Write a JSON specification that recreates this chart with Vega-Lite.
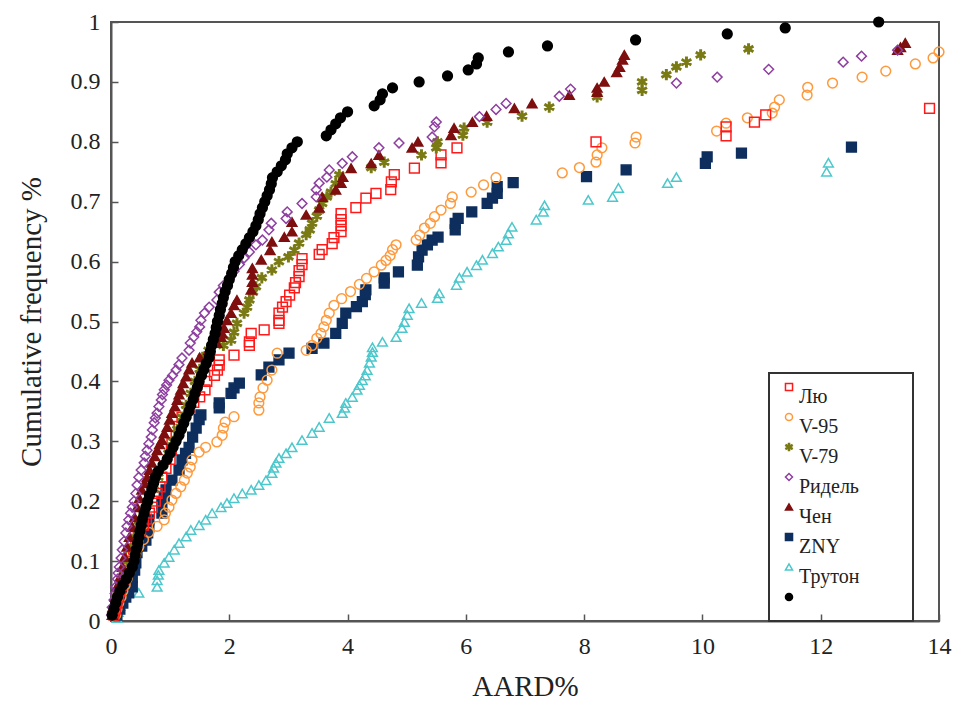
{
"$schema": "https://vega.github.io/schema/vega-lite/v6.json",
"width": 828, "height": 599,
"autosize": {"type": "none"},
"padding": {"left": 111, "top": 22, "right": 22, "bottom": 85},
"background": "white",
"config": {"view": {"stroke": "#555", "strokeWidth": 2}, "font": "Liberation Serif", "legend": {"strokeWidth": 2}},
"data": {"values": [
{"s":"Трутон","x":0.1,"y":0.005},{"s":"Трутон","x":0.12,"y":0.015},{"s":"Трутон","x":0.15,"y":0.025},{"s":"Трутон","x":0.18,"y":0.035},{"s":"Трутон","x":0.47,"y":0.047},{"s":"Трутон","x":0.78,"y":0.057},{"s":"Трутон","x":0.78,"y":0.068},{"s":"Трутон","x":0.8,"y":0.077},{"s":"Трутон","x":0.81,"y":0.085},{"s":"Трутон","x":0.9,"y":0.097},{"s":"Трутон","x":0.98,"y":0.107},{"s":"Трутон","x":1.07,"y":0.119},{"s":"Трутон","x":1.15,"y":0.13},{"s":"Трутон","x":1.27,"y":0.141},{"s":"Трутон","x":1.35,"y":0.152},{"s":"Трутон","x":1.49,"y":0.16},{"s":"Трутон","x":1.6,"y":0.169},{"s":"Трутон","x":1.71,"y":0.18},{"s":"Трутон","x":1.86,"y":0.19},{"s":"Трутон","x":1.96,"y":0.197},{"s":"Трутон","x":2.08,"y":0.205},{"s":"Трутон","x":2.22,"y":0.213},{"s":"Трутон","x":2.37,"y":0.219},{"s":"Трутон","x":2.5,"y":0.227},{"s":"Трутон","x":2.62,"y":0.235},{"s":"Трутон","x":2.72,"y":0.247},{"s":"Трутон","x":2.75,"y":0.256},{"s":"Трутон","x":2.79,"y":0.264},{"s":"Трутон","x":2.84,"y":0.272},{"s":"Трутон","x":2.96,"y":0.28},{"s":"Трутон","x":3.06,"y":0.29},{"s":"Трутон","x":3.23,"y":0.302},{"s":"Трутон","x":3.4,"y":0.314},{"s":"Трутон","x":3.52,"y":0.324},{"s":"Трутон","x":3.69,"y":0.339},{"s":"Трутон","x":3.91,"y":0.347},{"s":"Трутон","x":3.95,"y":0.356},{"s":"Трутон","x":3.97,"y":0.364},{"s":"Трутон","x":4.08,"y":0.374},{"s":"Трутон","x":4.16,"y":0.386},{"s":"Трутон","x":4.2,"y":0.394},{"s":"Трутон","x":4.25,"y":0.402},{"s":"Трутон","x":4.3,"y":0.41},{"s":"Трутон","x":4.33,"y":0.419},{"s":"Трутон","x":4.37,"y":0.431},{"s":"Трутон","x":4.4,"y":0.441},{"s":"Трутон","x":4.42,"y":0.449},{"s":"Трутон","x":4.42,"y":0.457},{"s":"Трутон","x":4.59,"y":0.466},{"s":"Трутон","x":4.82,"y":0.474},{"s":"Трутон","x":4.92,"y":0.489},{"s":"Трутон","x":4.96,"y":0.499},{"s":"Трутон","x":5.01,"y":0.511},{"s":"Трутон","x":5.04,"y":0.522},{"s":"Трутон","x":5.25,"y":0.531},{"s":"Трутон","x":5.52,"y":0.539},{"s":"Трутон","x":5.55,"y":0.547},{"s":"Трутон","x":5.84,"y":0.561},{"s":"Трутон","x":5.89,"y":0.573},{"s":"Трутон","x":6.02,"y":0.583},{"s":"Трутон","x":6.18,"y":0.594},{"s":"Трутон","x":6.28,"y":0.603},{"s":"Трутон","x":6.45,"y":0.614},{"s":"Трутон","x":6.55,"y":0.625},{"s":"Трутон","x":6.68,"y":0.636},{"s":"Трутон","x":6.72,"y":0.647},{"s":"Трутон","x":6.78,"y":0.658},{"s":"Трутон","x":7.19,"y":0.67},{"s":"Трутон","x":7.31,"y":0.683},{"s":"Трутон","x":7.33,"y":0.694},{"s":"Трутон","x":8.07,"y":0.703},{"s":"Трутон","x":8.48,"y":0.708},{"s":"Трутон","x":8.58,"y":0.723},{"s":"Трутон","x":9.41,"y":0.731},{"s":"Трутон","x":9.56,"y":0.741},{"s":"Трутон","x":12.1,"y":0.75},{"s":"Трутон","x":12.13,"y":0.765},
{"s":"ZNY","x":0.1,"y":0.01},{"s":"ZNY","x":0.15,"y":0.02},{"s":"ZNY","x":0.2,"y":0.03},{"s":"ZNY","x":0.25,"y":0.04},{"s":"ZNY","x":0.3,"y":0.047},{"s":"ZNY","x":0.36,"y":0.057},{"s":"ZNY","x":0.36,"y":0.073},{"s":"ZNY","x":0.4,"y":0.085},{"s":"ZNY","x":0.42,"y":0.097},{"s":"ZNY","x":0.44,"y":0.114},{"s":"ZNY","x":0.52,"y":0.125},{"s":"ZNY","x":0.59,"y":0.135},{"s":"ZNY","x":0.62,"y":0.147},{"s":"ZNY","x":0.64,"y":0.157},{"s":"ZNY","x":0.64,"y":0.169},{"s":"ZNY","x":0.86,"y":0.18},{"s":"ZNY","x":0.86,"y":0.197},{"s":"ZNY","x":0.9,"y":0.208},{"s":"ZNY","x":0.93,"y":0.219},{"s":"ZNY","x":1.03,"y":0.235},{"s":"ZNY","x":1.15,"y":0.252},{"s":"ZNY","x":1.2,"y":0.269},{"s":"ZNY","x":1.26,"y":0.28},{"s":"ZNY","x":1.32,"y":0.29},{"s":"ZNY","x":1.38,"y":0.307},{"s":"ZNY","x":1.44,"y":0.322},{"s":"ZNY","x":1.49,"y":0.336},{"s":"ZNY","x":1.52,"y":0.344},{"s":"ZNY","x":1.83,"y":0.356},{"s":"ZNY","x":1.83,"y":0.364},{"s":"ZNY","x":2.03,"y":0.38},{"s":"ZNY","x":2.08,"y":0.389},{"s":"ZNY","x":2.17,"y":0.397},{"s":"ZNY","x":2.54,"y":0.411},{"s":"ZNY","x":2.67,"y":0.424},{"s":"ZNY","x":2.84,"y":0.436},{"s":"ZNY","x":3.01,"y":0.447},{"s":"ZNY","x":3.4,"y":0.455},{"s":"ZNY","x":3.6,"y":0.464},{"s":"ZNY","x":3.8,"y":0.48},{"s":"ZNY","x":3.91,"y":0.497},{"s":"ZNY","x":3.97,"y":0.514},{"s":"ZNY","x":4.15,"y":0.525},{"s":"ZNY","x":4.25,"y":0.533},{"s":"ZNY","x":4.3,"y":0.545},{"s":"ZNY","x":4.31,"y":0.553},{"s":"ZNY","x":4.62,"y":0.564},{"s":"ZNY","x":4.62,"y":0.573},{"s":"ZNY","x":4.86,"y":0.583},{"s":"ZNY","x":5.18,"y":0.594},{"s":"ZNY","x":5.2,"y":0.608},{"s":"ZNY","x":5.26,"y":0.619},{"s":"ZNY","x":5.35,"y":0.628},{"s":"ZNY","x":5.43,"y":0.636},{"s":"ZNY","x":5.53,"y":0.641},{"s":"ZNY","x":5.82,"y":0.653},{"s":"ZNY","x":5.82,"y":0.664},{"s":"ZNY","x":5.87,"y":0.672},{"s":"ZNY","x":6.1,"y":0.683},{"s":"ZNY","x":6.36,"y":0.697},{"s":"ZNY","x":6.45,"y":0.706},{"s":"ZNY","x":6.53,"y":0.714},{"s":"ZNY","x":6.53,"y":0.725},{"s":"ZNY","x":6.8,"y":0.732},{"s":"ZNY","x":8.04,"y":0.742},{"s":"ZNY","x":8.71,"y":0.753},{"s":"ZNY","x":10.05,"y":0.764},{"s":"ZNY","x":10.08,"y":0.775},{"s":"ZNY","x":10.66,"y":0.781},{"s":"ZNY","x":12.52,"y":0.791},
{"s":"V-95","x":0.08,"y":0.01},{"s":"V-95","x":0.1,"y":0.02},{"s":"V-95","x":0.13,"y":0.03},{"s":"V-95","x":0.17,"y":0.04},{"s":"V-95","x":0.2,"y":0.05},{"s":"V-95","x":0.24,"y":0.06},{"s":"V-95","x":0.27,"y":0.07},{"s":"V-95","x":0.3,"y":0.08},{"s":"V-95","x":0.33,"y":0.09},{"s":"V-95","x":0.36,"y":0.1},{"s":"V-95","x":0.42,"y":0.112},{"s":"V-95","x":0.47,"y":0.124},{"s":"V-95","x":0.55,"y":0.136},{"s":"V-95","x":0.64,"y":0.148},{"s":"V-95","x":0.78,"y":0.158},{"s":"V-95","x":0.9,"y":0.169},{"s":"V-95","x":0.92,"y":0.18},{"s":"V-95","x":0.98,"y":0.19},{"s":"V-95","x":1.03,"y":0.202},{"s":"V-95","x":1.1,"y":0.213},{"s":"V-95","x":1.18,"y":0.224},{"s":"V-95","x":1.24,"y":0.235},{"s":"V-95","x":1.29,"y":0.247},{"s":"V-95","x":1.34,"y":0.257},{"s":"V-95","x":1.37,"y":0.269},{"s":"V-95","x":1.49,"y":0.282},{"s":"V-95","x":1.6,"y":0.29},{"s":"V-95","x":1.79,"y":0.299},{"s":"V-95","x":1.88,"y":0.31},{"s":"V-95","x":1.9,"y":0.322},{"s":"V-95","x":1.93,"y":0.332},{"s":"V-95","x":2.08,"y":0.341},{"s":"V-95","x":2.5,"y":0.352},{"s":"V-95","x":2.5,"y":0.364},{"s":"V-95","x":2.52,"y":0.374},{"s":"V-95","x":2.57,"y":0.389},{"s":"V-95","x":2.64,"y":0.402},{"s":"V-95","x":2.72,"y":0.419},{"s":"V-95","x":2.81,"y":0.447},{"s":"V-95","x":3.3,"y":0.452},{"s":"V-95","x":3.4,"y":0.46},{"s":"V-95","x":3.48,"y":0.472},{"s":"V-95","x":3.55,"y":0.48},{"s":"V-95","x":3.6,"y":0.491},{"s":"V-95","x":3.64,"y":0.502},{"s":"V-95","x":3.69,"y":0.514},{"s":"V-95","x":3.77,"y":0.527},{"s":"V-95","x":3.9,"y":0.538},{"s":"V-95","x":4.05,"y":0.55},{"s":"V-95","x":4.2,"y":0.562},{"s":"V-95","x":4.32,"y":0.572},{"s":"V-95","x":4.45,"y":0.583},{"s":"V-95","x":4.57,"y":0.594},{"s":"V-95","x":4.65,"y":0.602},{"s":"V-95","x":4.72,"y":0.61},{"s":"V-95","x":4.76,"y":0.62},{"s":"V-95","x":4.82,"y":0.628},{"s":"V-95","x":5.16,"y":0.636},{"s":"V-95","x":5.22,"y":0.644},{"s":"V-95","x":5.3,"y":0.656},{"s":"V-95","x":5.4,"y":0.664},{"s":"V-95","x":5.47,"y":0.675},{"s":"V-95","x":5.58,"y":0.686},{"s":"V-95","x":5.74,"y":0.697},{"s":"V-95","x":5.77,"y":0.708},{"s":"V-95","x":6.09,"y":0.716},{"s":"V-95","x":6.3,"y":0.728},{"s":"V-95","x":6.51,"y":0.74},{"s":"V-95","x":7.63,"y":0.748},{"s":"V-95","x":7.92,"y":0.757},{"s":"V-95","x":8.2,"y":0.766},{"s":"V-95","x":8.22,"y":0.778},{"s":"V-95","x":8.3,"y":0.79},{"s":"V-95","x":8.86,"y":0.798},{"s":"V-95","x":8.88,"y":0.808},{"s":"V-95","x":10.24,"y":0.818},{"s":"V-95","x":10.4,"y":0.831},{"s":"V-95","x":10.76,"y":0.84},{"s":"V-95","x":11.18,"y":0.848},{"s":"V-95","x":11.22,"y":0.858},{"s":"V-95","x":11.3,"y":0.87},{"s":"V-95","x":11.77,"y":0.878},{"s":"V-95","x":11.78,"y":0.891},{"s":"V-95","x":12.2,"y":0.898},{"s":"V-95","x":12.7,"y":0.908},{"s":"V-95","x":13.1,"y":0.918},{"s":"V-95","x":13.6,"y":0.93},{"s":"V-95","x":13.9,"y":0.94},{"s":"V-95","x":14.0,"y":0.95},
{"s":"Лю","x":0.05,"y":0.01},{"s":"Лю","x":0.08,"y":0.02},{"s":"Лю","x":0.1,"y":0.03},{"s":"Лю","x":0.13,"y":0.04},{"s":"Лю","x":0.15,"y":0.05},{"s":"Лю","x":0.18,"y":0.06},{"s":"Лю","x":0.21,"y":0.07},{"s":"Лю","x":0.24,"y":0.08},{"s":"Лю","x":0.27,"y":0.09},{"s":"Лю","x":0.3,"y":0.1},{"s":"Лю","x":0.34,"y":0.11},{"s":"Лю","x":0.38,"y":0.12},{"s":"Лю","x":0.42,"y":0.13},{"s":"Лю","x":0.46,"y":0.14},{"s":"Лю","x":0.5,"y":0.15},{"s":"Лю","x":0.55,"y":0.16},{"s":"Лю","x":0.6,"y":0.17},{"s":"Лю","x":0.65,"y":0.18},{"s":"Лю","x":0.7,"y":0.19},{"s":"Лю","x":0.75,"y":0.2},{"s":"Лю","x":0.78,"y":0.213},{"s":"Лю","x":0.83,"y":0.224},{"s":"Лю","x":0.86,"y":0.24},{"s":"Лю","x":0.93,"y":0.255},{"s":"Лю","x":1.0,"y":0.27},{"s":"Лю","x":1.02,"y":0.285},{"s":"Лю","x":1.03,"y":0.297},{"s":"Лю","x":1.1,"y":0.31},{"s":"Лю","x":1.15,"y":0.325},{"s":"Лю","x":1.2,"y":0.34},{"s":"Лю","x":1.32,"y":0.355},{"s":"Лю","x":1.4,"y":0.365},{"s":"Лю","x":1.5,"y":0.374},{"s":"Лю","x":1.59,"y":0.386},{"s":"Лю","x":1.62,"y":0.4},{"s":"Лю","x":1.75,"y":0.41},{"s":"Лю","x":1.8,"y":0.419},{"s":"Лю","x":1.83,"y":0.427},{"s":"Лю","x":1.83,"y":0.436},{"s":"Лю","x":2.08,"y":0.444},{"s":"Лю","x":2.34,"y":0.46},{"s":"Лю","x":2.34,"y":0.466},{"s":"Лю","x":2.37,"y":0.48},{"s":"Лю","x":2.59,"y":0.486},{"s":"Лю","x":2.84,"y":0.497},{"s":"Лю","x":2.84,"y":0.502},{"s":"Лю","x":2.84,"y":0.514},{"s":"Лю","x":2.9,"y":0.524},{"s":"Лю","x":2.96,"y":0.533},{"s":"Лю","x":3.02,"y":0.544},{"s":"Лю","x":3.1,"y":0.556},{"s":"Лю","x":3.12,"y":0.565},{"s":"Лю","x":3.18,"y":0.575},{"s":"Лю","x":3.18,"y":0.585},{"s":"Лю","x":3.23,"y":0.595},{"s":"Лю","x":3.23,"y":0.605},{"s":"Лю","x":3.52,"y":0.612},{"s":"Лю","x":3.57,"y":0.62},{"s":"Лю","x":3.74,"y":0.63},{"s":"Лю","x":3.77,"y":0.64},{"s":"Лю","x":3.89,"y":0.65},{"s":"Лю","x":3.89,"y":0.66},{"s":"Лю","x":3.89,"y":0.67},{"s":"Лю","x":3.89,"y":0.68},{"s":"Лю","x":4.14,"y":0.69},{"s":"Лю","x":4.31,"y":0.706},{"s":"Лю","x":4.48,"y":0.714},{"s":"Лю","x":4.73,"y":0.72},{"s":"Лю","x":4.74,"y":0.733},{"s":"Лю","x":4.79,"y":0.745},{"s":"Лю","x":5.13,"y":0.756},{"s":"Лю","x":5.58,"y":0.765},{"s":"Лю","x":5.58,"y":0.778},{"s":"Лю","x":5.85,"y":0.79},{"s":"Лю","x":8.2,"y":0.8},{"s":"Лю","x":10.4,"y":0.81},{"s":"Лю","x":10.4,"y":0.825},{"s":"Лю","x":10.88,"y":0.833},{"s":"Лю","x":11.07,"y":0.845},{"s":"Лю","x":13.84,"y":0.856},
{"s":"V-79","x":0.03,"y":0.01},{"s":"V-79","x":0.05,"y":0.02},{"s":"V-79","x":0.1,"y":0.04},{"s":"V-79","x":0.15,"y":0.06},{"s":"V-79","x":0.21,"y":0.08},{"s":"V-79","x":0.27,"y":0.1},{"s":"V-79","x":0.33,"y":0.12},{"s":"V-79","x":0.4,"y":0.14},{"s":"V-79","x":0.47,"y":0.16},{"s":"V-79","x":0.55,"y":0.18},{"s":"V-79","x":0.63,"y":0.2},{"s":"V-79","x":0.72,"y":0.22},{"s":"V-79","x":0.8,"y":0.24},{"s":"V-79","x":0.88,"y":0.26},{"s":"V-79","x":0.97,"y":0.28},{"s":"V-79","x":1.05,"y":0.3},{"s":"V-79","x":1.12,"y":0.32},{"s":"V-79","x":1.2,"y":0.34},{"s":"V-79","x":1.27,"y":0.36},{"s":"V-79","x":1.35,"y":0.38},{"s":"V-79","x":1.42,"y":0.4},{"s":"V-79","x":1.5,"y":0.42},{"s":"V-79","x":1.55,"y":0.44},{"s":"V-79","x":1.65,"y":0.452},{"s":"V-79","x":1.9,"y":0.46},{"s":"V-79","x":2.03,"y":0.469},{"s":"V-79","x":2.08,"y":0.482},{"s":"V-79","x":2.13,"y":0.497},{"s":"V-79","x":2.25,"y":0.514},{"s":"V-79","x":2.3,"y":0.524},{"s":"V-79","x":2.34,"y":0.536},{"s":"V-79","x":2.4,"y":0.549},{"s":"V-79","x":2.45,"y":0.558},{"s":"V-79","x":2.55,"y":0.573},{"s":"V-79","x":2.72,"y":0.586},{"s":"V-79","x":2.84,"y":0.6},{"s":"V-79","x":3.0,"y":0.608},{"s":"V-79","x":3.1,"y":0.619},{"s":"V-79","x":3.18,"y":0.631},{"s":"V-79","x":3.3,"y":0.645},{"s":"V-79","x":3.36,"y":0.653},{"s":"V-79","x":3.4,"y":0.664},{"s":"V-79","x":3.48,"y":0.676},{"s":"V-79","x":3.52,"y":0.686},{"s":"V-79","x":3.57,"y":0.697},{"s":"V-79","x":3.65,"y":0.708},{"s":"V-79","x":3.72,"y":0.716},{"s":"V-79","x":3.8,"y":0.73},{"s":"V-79","x":3.86,"y":0.745},{"s":"V-79","x":4.4,"y":0.757},{"s":"V-79","x":4.62,"y":0.766},{"s":"V-79","x":5.25,"y":0.778},{"s":"V-79","x":5.5,"y":0.79},{"s":"V-79","x":5.52,"y":0.8},{"s":"V-79","x":5.95,"y":0.811},{"s":"V-79","x":5.97,"y":0.823},{"s":"V-79","x":6.36,"y":0.833},{"s":"V-79","x":6.95,"y":0.843},{"s":"V-79","x":7.41,"y":0.858},{"s":"V-79","x":8.22,"y":0.875},{"s":"V-79","x":8.98,"y":0.886},{"s":"V-79","x":8.98,"y":0.9},{"s":"V-79","x":9.39,"y":0.912},{"s":"V-79","x":9.56,"y":0.925},{"s":"V-79","x":9.73,"y":0.933},{"s":"V-79","x":9.97,"y":0.945},{"s":"V-79","x":10.78,"y":0.955},
{"s":"Чен","x":0.02,"y":0.01},{"s":"Чен","x":0.03,"y":0.023},{"s":"Чен","x":0.07,"y":0.04},{"s":"Чен","x":0.1,"y":0.057},{"s":"Чен","x":0.15,"y":0.073},{"s":"Чен","x":0.19,"y":0.09},{"s":"Чен","x":0.23,"y":0.107},{"s":"Чен","x":0.27,"y":0.124},{"s":"Чен","x":0.31,"y":0.14},{"s":"Чен","x":0.36,"y":0.157},{"s":"Чен","x":0.4,"y":0.173},{"s":"Чен","x":0.44,"y":0.19},{"s":"Чен","x":0.48,"y":0.205},{"s":"Чен","x":0.52,"y":0.219},{"s":"Чен","x":0.57,"y":0.23},{"s":"Чен","x":0.61,"y":0.24},{"s":"Чен","x":0.65,"y":0.252},{"s":"Чен","x":0.69,"y":0.264},{"s":"Чен","x":0.74,"y":0.275},{"s":"Чен","x":0.78,"y":0.285},{"s":"Чен","x":0.82,"y":0.295},{"s":"Чен","x":0.86,"y":0.302},{"s":"Чен","x":0.9,"y":0.313},{"s":"Чен","x":0.95,"y":0.324},{"s":"Чен","x":0.99,"y":0.336},{"s":"Чен","x":1.03,"y":0.347},{"s":"Чен","x":1.08,"y":0.358},{"s":"Чен","x":1.12,"y":0.369},{"s":"Чен","x":1.15,"y":0.378},{"s":"Чен","x":1.18,"y":0.386},{"s":"Чен","x":1.22,"y":0.397},{"s":"Чен","x":1.27,"y":0.408},{"s":"Чен","x":1.32,"y":0.42},{"s":"Чен","x":1.37,"y":0.431},{"s":"Чен","x":1.5,"y":0.44},{"s":"Чен","x":1.65,"y":0.452},{"s":"Чен","x":1.79,"y":0.464},{"s":"Чен","x":1.86,"y":0.474},{"s":"Чен","x":1.88,"y":0.48},{"s":"Чен","x":1.91,"y":0.489},{"s":"Чен","x":1.96,"y":0.502},{"s":"Чен","x":2.03,"y":0.514},{"s":"Чен","x":2.08,"y":0.527},{"s":"Чен","x":2.13,"y":0.536},{"s":"Чен","x":2.37,"y":0.553},{"s":"Чен","x":2.39,"y":0.566},{"s":"Чен","x":2.39,"y":0.578},{"s":"Чен","x":2.39,"y":0.589},{"s":"Чен","x":2.54,"y":0.603},{"s":"Чен","x":2.69,"y":0.619},{"s":"Чен","x":2.72,"y":0.633},{"s":"Чен","x":2.93,"y":0.641},{"s":"Чен","x":3.06,"y":0.65},{"s":"Чен","x":3.06,"y":0.666},{"s":"Чен","x":3.3,"y":0.678},{"s":"Чен","x":3.52,"y":0.69},{"s":"Чен","x":3.57,"y":0.708},{"s":"Чен","x":3.8,"y":0.72},{"s":"Чен","x":3.89,"y":0.731},{"s":"Чен","x":3.92,"y":0.741},{"s":"Чен","x":4.06,"y":0.756},{"s":"Чен","x":4.4,"y":0.764},{"s":"Чен","x":4.53,"y":0.778},{"s":"Чен","x":5.09,"y":0.79},{"s":"Чен","x":5.19,"y":0.8},{"s":"Чен","x":5.75,"y":0.811},{"s":"Чен","x":5.8,"y":0.823},{"s":"Чен","x":6.11,"y":0.833},{"s":"Чен","x":6.35,"y":0.843},{"s":"Чен","x":6.82,"y":0.856},{"s":"Чен","x":7.12,"y":0.864},{"s":"Чен","x":7.75,"y":0.878},{"s":"Чен","x":8.22,"y":0.883},{"s":"Чен","x":8.22,"y":0.89},{"s":"Чен","x":8.34,"y":0.9},{"s":"Чен","x":8.55,"y":0.916},{"s":"Чен","x":8.6,"y":0.925},{"s":"Чен","x":8.65,"y":0.937},{"s":"Чен","x":8.68,"y":0.945},{"s":"Чен","x":13.3,"y":0.953},{"s":"Чен","x":13.35,"y":0.958},{"s":"Чен","x":13.43,"y":0.965},
{"s":"Ридель","x":0.01,"y":0.01},{"s":"Ридель","x":0.02,"y":0.023},{"s":"Ридель","x":0.05,"y":0.035},{"s":"Ридель","x":0.07,"y":0.046},{"s":"Ридель","x":0.08,"y":0.057},{"s":"Ридель","x":0.11,"y":0.07},{"s":"Ридель","x":0.12,"y":0.08},{"s":"Ридель","x":0.14,"y":0.09},{"s":"Ридель","x":0.17,"y":0.105},{"s":"Ридель","x":0.19,"y":0.119},{"s":"Ридель","x":0.22,"y":0.133},{"s":"Ридель","x":0.25,"y":0.147},{"s":"Ридель","x":0.27,"y":0.158},{"s":"Ридель","x":0.3,"y":0.169},{"s":"Ридель","x":0.33,"y":0.18},{"s":"Ридель","x":0.36,"y":0.19},{"s":"Ридель","x":0.39,"y":0.2},{"s":"Ридель","x":0.42,"y":0.213},{"s":"Ридель","x":0.44,"y":0.227},{"s":"Ридель","x":0.47,"y":0.24},{"s":"Ридель","x":0.51,"y":0.252},{"s":"Ридель","x":0.56,"y":0.264},{"s":"Ридель","x":0.58,"y":0.275},{"s":"Ридель","x":0.61,"y":0.285},{"s":"Ридель","x":0.64,"y":0.296},{"s":"Ридель","x":0.68,"y":0.307},{"s":"Ридель","x":0.7,"y":0.319},{"s":"Ридель","x":0.73,"y":0.331},{"s":"Ридель","x":0.75,"y":0.339},{"s":"Ридель","x":0.78,"y":0.347},{"s":"Ридель","x":0.81,"y":0.358},{"s":"Ридель","x":0.85,"y":0.369},{"s":"Ридель","x":0.87,"y":0.378},{"s":"Ридель","x":0.9,"y":0.386},{"s":"Ридель","x":0.94,"y":0.394},{"s":"Ридель","x":0.98,"y":0.402},{"s":"Ридель","x":1.04,"y":0.41},{"s":"Ридель","x":1.1,"y":0.419},{"s":"Ридель","x":1.15,"y":0.428},{"s":"Ридель","x":1.2,"y":0.439},{"s":"Ридель","x":1.32,"y":0.452},{"s":"Ридель","x":1.34,"y":0.464},{"s":"Ридель","x":1.4,"y":0.474},{"s":"Ридель","x":1.45,"y":0.483},{"s":"Ридель","x":1.5,"y":0.491},{"s":"Ридель","x":1.52,"y":0.502},{"s":"Ридель","x":1.58,"y":0.514},{"s":"Ридель","x":1.66,"y":0.524},{"s":"Ридель","x":1.79,"y":0.536},{"s":"Ридель","x":1.83,"y":0.549},{"s":"Ридель","x":1.9,"y":0.56},{"s":"Ридель","x":2.0,"y":0.572},{"s":"Ридель","x":2.08,"y":0.584},{"s":"Ридель","x":2.17,"y":0.595},{"s":"Ридель","x":2.25,"y":0.606},{"s":"Ридель","x":2.34,"y":0.616},{"s":"Ридель","x":2.45,"y":0.628},{"s":"Ридель","x":2.56,"y":0.636},{"s":"Ридель","x":2.67,"y":0.653},{"s":"Ридель","x":2.71,"y":0.664},{"s":"Ридель","x":2.96,"y":0.672},{"s":"Ридель","x":2.98,"y":0.683},{"s":"Ридель","x":3.23,"y":0.697},{"s":"Ридель","x":3.47,"y":0.708},{"s":"Ридель","x":3.47,"y":0.72},{"s":"Ридель","x":3.52,"y":0.731},{"s":"Ридель","x":3.65,"y":0.741},{"s":"Ридель","x":3.69,"y":0.753},{"s":"Ридель","x":3.91,"y":0.764},{"s":"Ридель","x":4.08,"y":0.775},{"s":"Ридель","x":4.53,"y":0.79},{"s":"Ридель","x":4.87,"y":0.798},{"s":"Ридель","x":5.43,"y":0.808},{"s":"Ридель","x":5.47,"y":0.825},{"s":"Ридель","x":5.5,"y":0.833},{"s":"Ридель","x":6.23,"y":0.842},{"s":"Ридель","x":6.51,"y":0.854},{"s":"Ридель","x":6.68,"y":0.864},{"s":"Ридель","x":7.58,"y":0.876},{"s":"Ридель","x":7.77,"y":0.888},{"s":"Ридель","x":9.56,"y":0.898},{"s":"Ридель","x":10.25,"y":0.908},{"s":"Ридель","x":11.12,"y":0.921},{"s":"Ридель","x":12.38,"y":0.933},{"s":"Ридель","x":12.69,"y":0.943},{"s":"Ридель","x":13.3,"y":0.953},
{"s":" ","x":0.02,"y":0.01},{"s":" ","x":0.05,"y":0.02},{"s":" ","x":0.08,"y":0.03},{"s":" ","x":0.11,"y":0.04},{"s":" ","x":0.15,"y":0.05},{"s":" ","x":0.2,"y":0.06},{"s":" ","x":0.26,"y":0.07},{"s":" ","x":0.31,"y":0.08},{"s":" ","x":0.36,"y":0.09},{"s":" ","x":0.39,"y":0.1},{"s":" ","x":0.41,"y":0.11},{"s":" ","x":0.43,"y":0.12},{"s":" ","x":0.45,"y":0.13},{"s":" ","x":0.47,"y":0.14},{"s":" ","x":0.49,"y":0.15},{"s":" ","x":0.51,"y":0.16},{"s":" ","x":0.53,"y":0.17},{"s":" ","x":0.56,"y":0.18},{"s":" ","x":0.59,"y":0.19},{"s":" ","x":0.62,"y":0.2},{"s":" ","x":0.65,"y":0.21},{"s":" ","x":0.69,"y":0.22},{"s":" ","x":0.72,"y":0.23},{"s":" ","x":0.75,"y":0.24},{"s":" ","x":0.8,"y":0.25},{"s":" ","x":0.88,"y":0.26},{"s":" ","x":0.95,"y":0.27},{"s":" ","x":1.0,"y":0.28},{"s":" ","x":1.05,"y":0.29},{"s":" ","x":1.1,"y":0.3},{"s":" ","x":1.15,"y":0.31},{"s":" ","x":1.19,"y":0.32},{"s":" ","x":1.23,"y":0.33},{"s":" ","x":1.27,"y":0.34},{"s":" ","x":1.32,"y":0.35},{"s":" ","x":1.35,"y":0.36},{"s":" ","x":1.39,"y":0.37},{"s":" ","x":1.42,"y":0.38},{"s":" ","x":1.46,"y":0.39},{"s":" ","x":1.49,"y":0.4},{"s":" ","x":1.53,"y":0.41},{"s":" ","x":1.57,"y":0.42},{"s":" ","x":1.61,"y":0.43},{"s":" ","x":1.66,"y":0.44},{"s":" ","x":1.68,"y":0.45},{"s":" ","x":1.7,"y":0.46},{"s":" ","x":1.73,"y":0.47},{"s":" ","x":1.76,"y":0.48},{"s":" ","x":1.78,"y":0.49},{"s":" ","x":1.8,"y":0.5},{"s":" ","x":1.83,"y":0.51},{"s":" ","x":1.85,"y":0.52},{"s":" ","x":1.88,"y":0.53},{"s":" ","x":1.9,"y":0.54},{"s":" ","x":1.93,"y":0.55},{"s":" ","x":1.97,"y":0.56},{"s":" ","x":2.0,"y":0.57},{"s":" ","x":2.04,"y":0.58},{"s":" ","x":2.07,"y":0.59},{"s":" ","x":2.1,"y":0.6},{"s":" ","x":2.16,"y":0.61},{"s":" ","x":2.22,"y":0.62},{"s":" ","x":2.28,"y":0.63},{"s":" ","x":2.34,"y":0.64},{"s":" ","x":2.4,"y":0.65},{"s":" ","x":2.45,"y":0.66},{"s":" ","x":2.49,"y":0.67},{"s":" ","x":2.52,"y":0.68},{"s":" ","x":2.56,"y":0.69},{"s":" ","x":2.6,"y":0.7},{"s":" ","x":2.64,"y":0.71},{"s":" ","x":2.68,"y":0.72},{"s":" ","x":2.71,"y":0.73},{"s":" ","x":2.73,"y":0.74},{"s":" ","x":2.81,"y":0.75},{"s":" ","x":2.88,"y":0.76},{"s":" ","x":2.95,"y":0.77},{"s":" ","x":2.98,"y":0.78},{"s":" ","x":3.06,"y":0.79},{"s":" ","x":3.15,"y":0.8},{"s":" ","x":3.64,"y":0.81},{"s":" ","x":3.72,"y":0.82},{"s":" ","x":3.8,"y":0.83},{"s":" ","x":3.88,"y":0.84},{"s":" ","x":4.0,"y":0.85},{"s":" ","x":4.45,"y":0.86},{"s":" ","x":4.55,"y":0.87},{"s":" ","x":4.59,"y":0.88},{"s":" ","x":4.76,"y":0.89},{"s":" ","x":5.21,"y":0.9},{"s":" ","x":5.69,"y":0.91},{"s":" ","x":6.04,"y":0.92},{"s":" ","x":6.18,"y":0.93},{"s":" ","x":6.21,"y":0.94},{"s":" ","x":6.72,"y":0.95},{"s":" ","x":7.38,"y":0.96},{"s":" ","x":8.87,"y":0.97},{"s":" ","x":10.42,"y":0.98},{"s":" ","x":11.4,"y":0.99},{"s":" ","x":12.98,"y":1.0}
]},
"mark": {"type": "point", "size": 95, "strokeWidth": 1.5, "opacity": 1, "filled": true},
"encoding": {
"x": {"field": "x", "type": "quantitative", "scale": {"domain": [0, 14], "nice": false, "zero": false},
 "axis": {"values": [0,2,4,6,8,10,12,14], "title": "AARD%", "grid": false, "labelFlush": false,
  "titleFont": "Liberation Serif", "titleFontSize": 29, "titleFontWeight": "normal", "titleColor": "#222", "titlePadding": 14,
  "labelFont": "Liberation Serif", "labelFontSize": 24, "labelColor": "#222", "labelPadding": 20,
  "tickSize": -7, "tickColor": "#555", "tickWidth": 1.5, "domainColor": "#555", "domainWidth": 2}},
"y": {"field": "y", "type": "quantitative", "scale": {"domain": [0, 1], "nice": false, "zero": false},
 "axis": {"values": [0,0.1,0.2,0.3,0.4,0.5,0.6,0.7,0.8,0.9,1], "format": ".1~f", "title": "Cumulative frequency %", "grid": false, "labelFlush": false,
  "titleFont": "Liberation Serif", "titleFontSize": 29, "titleFontWeight": "normal", "titleColor": "#222", "titlePadding": 24,
  "labelFont": "Liberation Serif", "labelFontSize": 24, "labelColor": "#222", "labelPadding": 18,
  "tickSize": -7, "tickColor": "#555", "tickWidth": 1.5, "domainColor": "#555", "domainWidth": 2}},
"stroke": {"field": "s", "type": "nominal",
 "scale": {"domain": ["Лю","V-95","V-79","Ридель","Чен","ZNY","Трутон"," "], "range": ["#FF1A1A","#FF9A3C","#7A7A14","#8E3FA0","#7F0F0F","#0E2F5E","#4CC8CC","#000000"]},
 "legend": {"title": null, "orient": "none", "legendX": 658, "legendY": 351, "padding": 4, "strokeColor": "#333", "symbolSize": 50, "symbolStrokeWidth": 1.5, "symbolOffset": 6, "labelFont": "Liberation Serif", "labelFontSize": 20, "labelColor": "#222", "labelBaseline": "top", "labelOffset": 0, "rowPadding": 0, "labelExpr": "datum.label == 'Ридель' ? 'Ридель\u00a0\u00a0\u00a0\u00a0\u00a0\u00a0\u00a0\u2800' : datum.label"}},
"fill": {"field": "s", "type": "nominal",
 "scale": {"domain": ["Лю","V-95","V-79","Ридель","Чен","ZNY","Трутон"," "], "range": ["transparent","transparent","#7A7A14","transparent","#7F0F0F","#0E2F5E","transparent","#000000"]},
 "legend": {"title": null, "orient": "none", "legendX": 658, "legendY": 351, "padding": 4, "strokeColor": "#333", "symbolSize": 50, "symbolStrokeWidth": 1.5, "symbolOffset": 6, "labelFont": "Liberation Serif", "labelFontSize": 20, "labelColor": "#222", "labelBaseline": "top", "labelOffset": 0, "rowPadding": 0, "labelExpr": "datum.label == 'Ридель' ? 'Ридель\u00a0\u00a0\u00a0\u00a0\u00a0\u00a0\u00a0\u2800' : datum.label"}},
"shape": {"field": "s", "type": "nominal",
 "scale": {"domain": ["Лю","V-95","V-79","Ридель","Чен","ZNY","Трутон"," "], "range": ["square","circle","M-0.15,-1L0.15,-1L0.15,1L-0.15,1ZM-0.791,-0.63L0.941,0.37L0.791,0.63L-0.941,-0.37ZM-0.941,0.37L0.791,-0.63L0.941,-0.37L-0.791,0.63Z","diamond","triangle-up","square","triangle-up","circle"]},
 "legend": {"title": null, "orient": "none", "legendX": 658, "legendY": 351, "padding": 4, "strokeColor": "#333", "symbolSize": 50, "symbolStrokeWidth": 1.5, "symbolOffset": 6, "labelFont": "Liberation Serif", "labelFontSize": 20, "labelColor": "#222", "labelBaseline": "top", "labelOffset": 0, "rowPadding": 0, "labelExpr": "datum.label == 'Ридель' ? 'Ридель\u00a0\u00a0\u00a0\u00a0\u00a0\u00a0\u00a0\u2800' : datum.label"}}
}
}
